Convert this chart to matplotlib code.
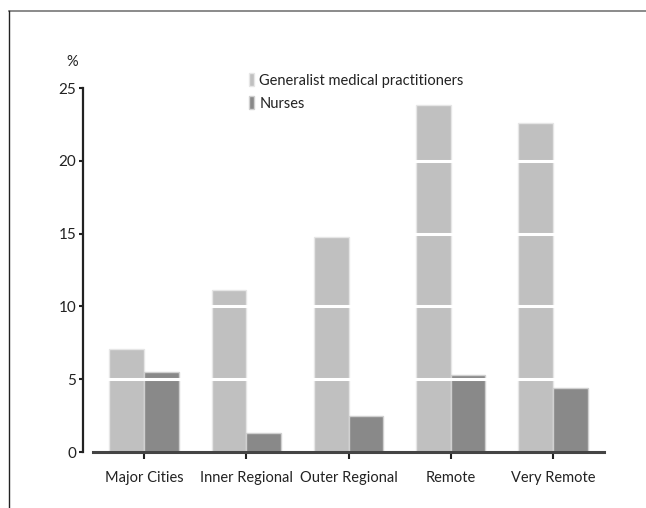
import matplotlib
matplotlib.use("Agg")
import matplotlib.pyplot as plt
from matplotlib.lines import Line2D
import numpy as np

categories = ["Major Cities", "Inner Regional", "Outer Regional", "Remote", "Very Remote"]
gp_values = [7.1, 11.1, 14.8, 23.8, 22.6]
nurse_values = [5.5, 1.3, 2.5, 5.3, 4.4]
y_ticks = [0, 5, 10, 15, 20, 25]
series_labels = ["Generalist medical practitioners", "Nurses"]

plt.rcParams['font.family'] = ['Lato', 'DejaVu Sans']

W, H = 646, 508
fig = plt.figure(figsize=(W / 100, H / 100), dpi=100)
ax = fig.add_axes([93 / W, 1 - 452 / H, (604 - 93) / W, (452 - 88) / H])

x = np.arange(len(categories))
bw = 0.34
b1 = ax.bar(x - bw / 2, gp_values, width=bw, color="#c0c0c0", edgecolor="#e6e6e6",
            linewidth=1.0, zorder=2, label=series_labels[0])
b2 = ax.bar(x + bw / 2, nurse_values, width=bw, color="#898989", edgecolor="#d0d0d0",
            linewidth=1.0, zorder=2, label=series_labels[1])

ax.set_xlim(-0.5, 4.5)
ax.set_ylim(0, 25)
ax.set_yticks(y_ticks)
ax.set_xticks(x)
ax.set_xticklabels(categories)

# white gridlines over bars
for t in y_ticks[1:-1]:
    ax.axhline(t, color="white", linewidth=2.2, zorder=3)

for s in ["top", "right"]:
    ax.spines[s].set_visible(False)
ax.spines["left"].set_position(("outward", 7))
ax.spines["left"].set_bounds(0, 25)
ax.spines["left"].set_color("#222222")
ax.spines["left"].set_linewidth(1.6)
ax.spines["bottom"].set_color("#444444")
ax.spines["bottom"].set_linewidth(2.2)
ax.spines["bottom"].set_zorder(4)

ax.tick_params(axis="y", direction="out", length=3, width=1.5, color="#222222",
               labelsize=11, labelcolor="#222222", pad=2)
ax.tick_params(axis="x", direction="out", length=5, width=1.5, color="#222222",
               labelsize=10.5, labelcolor="#222222", pad=9)

fig.text(72 / W, 1 - 62 / H, "%", fontsize=10.5, color="#222222", ha="center", va="center")

leg = fig.legend(handles=[b1, b2], labels=series_labels, loc="upper left",
                 bbox_to_anchor=(249 / W, 1 - 73 / H), frameon=False,
                 handlelength=0.35, handleheight=1.0, handletextpad=0.35,
                 labelspacing=0.6, borderpad=0, borderaxespad=0, fontsize=10.5)
for t in leg.get_texts():
    t.set_color("#222222")

# outer frame (top and left edges visible)
fig.add_artist(Line2D([8.5 / W, 1], [1 - 10.5 / H, 1 - 10.5 / H], transform=fig.transFigure,
                      color="#777777", linewidth=1.2))
fig.add_artist(Line2D([8.5 / W, 8.5 / W], [0, 1 - 10.5 / H], transform=fig.transFigure,
                      color="#222222", linewidth=1.0))

fig.savefig("out.png", dpi=100)
